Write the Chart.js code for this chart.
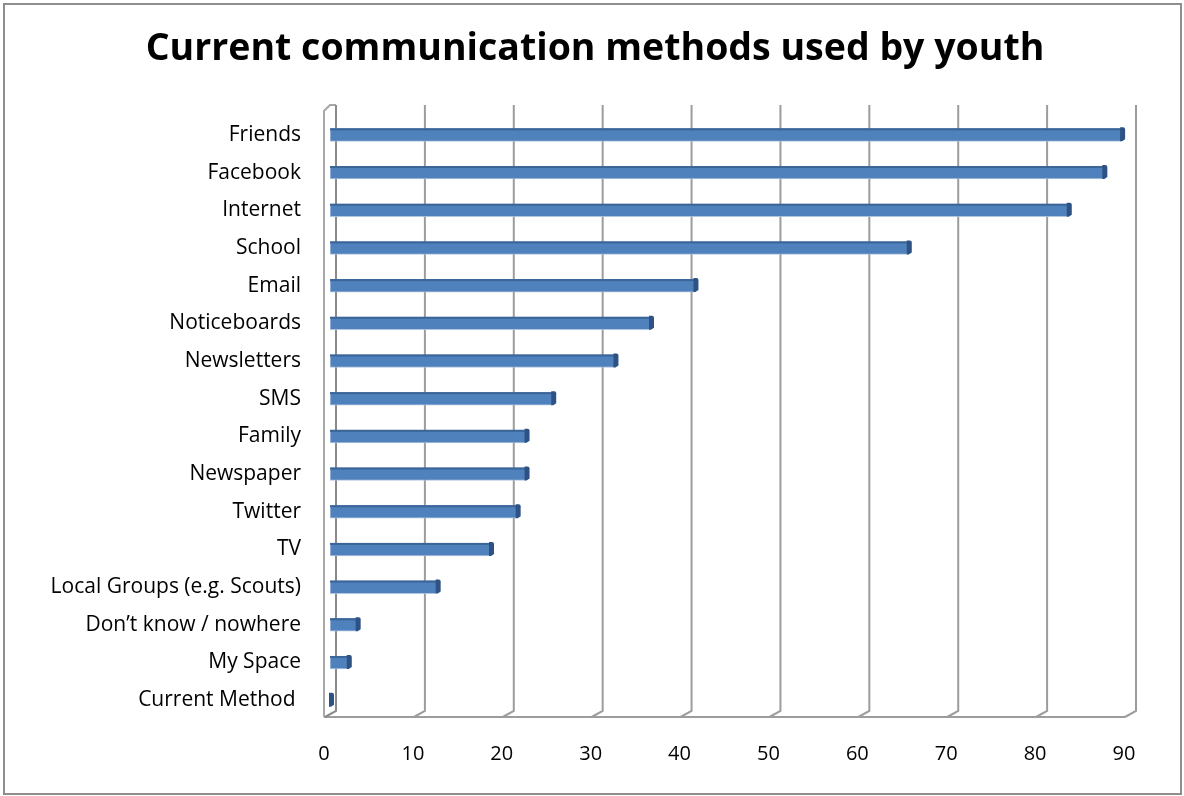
<!DOCTYPE html>
<html><head><meta charset="utf-8">
<script src="https://cdn.jsdelivr.net/npm/chart.js@4.4.0/dist/chart.umd.min.js"></script>
<style>html,body{margin:0;padding:0;background:#fff;}#wrap{width:1184px;height:796px;position:relative;}</style>
</head><body><div id="wrap"><canvas id="c" width="1184" height="796"></canvas></div>
<script>
const titleText = "Current communication methods used by youth";
const categories = ["Friends","Facebook","Internet","School","Email","Noticeboards","Newsletters","SMS","Family","Newspaper","Twitter","TV","Local Groups (e.g. Scouts)","Don\u2019t know / nowhere","My Space","Current Method "];
const values = [89,87,83,65,41,36,32,25,22,22,21,18,12,3,2,0];
const xMin = 0, xMax = 90, xStep = 10;

const BACK = 6, FRONT = -5, DEPTH_Y = 6;

const deco = {
  id: 'deco',
  beforeDraw(chart) {
    const ctx = chart.ctx;
    ctx.save();
    ctx.fillStyle = '#fff';
    ctx.fillRect(0, 0, chart.width, chart.height);
    ctx.strokeStyle = '#8e8e8e';
    ctx.lineWidth = 2;
    ctx.strokeRect(4, 4, 1177, 790);
    // title
    ctx.fillStyle = '#000';
    ctx.font = 'bold 37.5px "Open Sans"';
    ctx.textAlign = 'center';
    ctx.textBaseline = 'middle';
    ctx.fillText(titleText, 595, 49);
    ctx.restore();
  },
  beforeDatasetsDraw(chart) {
    const ctx = chart.ctx;
    const xs = chart.scales.x;
    const area = chart.chartArea;
    const top = area.top - 11;
    const floorY = area.bottom - 2;
    ctx.save();
    ctx.lineWidth = 2;
    ctx.strokeStyle = '#9c9c9c';
    for (let v = xMin + xStep; v <= xMax; v += xStep) {
      const x = xs.getPixelForValue(v);
      ctx.beginPath();
      ctx.moveTo(x + BACK, top);
      ctx.lineTo(x + BACK, floorY - DEPTH_Y);
      ctx.lineTo(x + FRONT, floorY);
      ctx.stroke();
    }
    const x0 = xs.getPixelForValue(xMin);
    const x1 = xs.getPixelForValue(xMax);
    ctx.beginPath();
    ctx.moveTo(x0 + FRONT - 1, floorY);
    ctx.lineTo(x1 + FRONT, floorY);
    ctx.stroke();
    ctx.strokeStyle = '#a8a8a8';
    ctx.beginPath();
    ctx.moveTo(x0 + FRONT - 1, floorY);
    ctx.lineTo(x0 + FRONT - 1, top + DEPTH_Y);
    ctx.lineTo(x0 + FRONT + 5, top);
    ctx.lineTo(x0 + BACK, top);
    ctx.stroke();
    ctx.strokeStyle = '#8a8a8a';
    ctx.beginPath();
    ctx.moveTo(x0 + BACK, top);
    ctx.lineTo(x0 + BACK, floorY - DEPTH_Y);
    ctx.lineTo(x0 + FRONT, floorY);
    ctx.stroke();
    ctx.restore();
  },
  afterDatasetsDraw(chart) {
    const ctx = chart.ctx;
    const meta = chart.getDatasetMeta(0);
    ctx.save();
    meta.data.forEach(el => {
      const h = el.height;
      const yTop = el.y - h / 2;
      const base = el.base;
      const x = el.x;
      if (x - base > 0) {
        ctx.fillStyle = '#3b6597';
        ctx.fillRect(base, yTop, x - base, 2);
      }
      ctx.fillStyle = '#2d5283';
      ctx.beginPath();
      ctx.moveTo(x - 1, yTop - 1);
      ctx.lineTo(x + 2, yTop - 1);
      ctx.quadraticCurveTo(x + 4, yTop - 1, x + 4, yTop + 1);
      ctx.lineTo(x + 4, yTop + h - 2);
      ctx.lineTo(x + 1, yTop + h);
      ctx.lineTo(x - 1, yTop + h);
      ctx.closePath();
      ctx.fill();
    });
    ctx.restore();
  }
};

new Chart(document.getElementById('c'), {
  type: 'bar',
  data: {
    labels: categories,
    datasets: [{
      data: values,
      backgroundColor: '#4f81bd',
      borderColor: 'rgba(167,191,222,0.9)',
      borderWidth: {top: 0, bottom: 1, left: 1, right: 0},
      borderSkipped: false,
      barThickness: 13
    }]
  },
  options: {
    indexAxis: 'y',
    responsive: false,
    animation: false,
    events: [],
    layout: { padding: { left: 0, right: 54, top: 116, bottom: 0 } },
    plugins: {
      legend: { display: false },
      tooltip: { enabled: false },
      title: { display: false }
    },
    scales: {
      x: {
        min: xMin, max: xMax,
        grid: { display: false, drawTicks: false },
        border: { display: false },
        ticks: {
          stepSize: xStep,
          padding: 23,
          labelOffset: -6,
          color: '#000',
          font: { family: 'Open Sans', size: 20 }
        },
        afterFit(s) { s.height = 77; }
      },
      y: {
        grid: { display: false, drawTicks: false },
        border: { display: false },
        ticks: {
          padding: 29,
          color: '#000',
          font: { family: 'Open Sans', size: 21 },
          autoSkip: false
        },
        afterFit(s) { s.width = 330; }
      }
    }
  },
  plugins: [deco]
});
</script></body></html>
